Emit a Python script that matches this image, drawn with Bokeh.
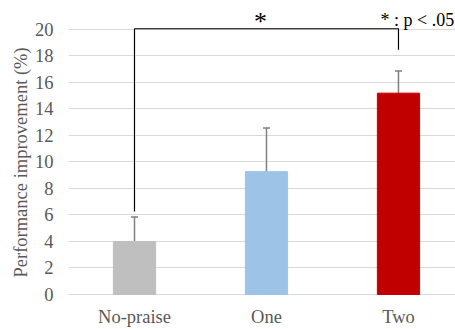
from bokeh.plotting import figure
from bokeh.models import Range1d, ColumnDataSource, Whisker, FixedTicker, TeeHead, Label, Title
from bokeh.embed import file_html
from bokeh.resources import INLINE

categories = ["No-praise", "One", "Two"]
means = [4.0, 9.27, 15.19]
err_low = [2.1, 5.94, 13.43]
err_high = [5.85, 12.57, 16.86]
colors = ["#bfbfbf", "#9dc3e6", "#c00000"]
y_ticks = [0, 2, 4, 6, 8, 10, 12, 14, 16, 18, 20]
bracket_top = 20.05
bracket_left_bottom = 6.26
bracket_right_bottom = 18.47
sig_label = "*"
legend_label = "* : p < .05"
y_label = "Performance improvement (%)"

FONT = "Liberation Serif"
xs = [i + 0.5 for i in range(len(categories))]

p = figure(width=455, height=329, output_backend="svg", toolbar_location=None,
           x_range=Range1d(0, 2.932), y_range=Range1d(-0.075, 22.18),
           min_border_left=68, min_border_right=0, min_border_top=0, min_border_bottom=33)
p.outline_line_color = None
p.xgrid.grid_line_color = None
p.ygrid.grid_line_color = "#d9d9d9"
p.ygrid.grid_line_width = 1

src = ColumnDataSource(dict(x=xs, top=means, lo=err_low, hi=err_high, color=colors))
p.vbar(x="x", top="top", bottom=0, width=0.32, color="color", source=src)

wh = Whisker(base="x", lower="lo", upper="hi", source=src, line_color="#7f7f7f", line_width=1.5,
             upper_head=TeeHead(size=7, line_color="#7f7f7f", line_width=1.5),
             lower_head=TeeHead(size=7, line_color="#7f7f7f", line_width=1.5))
p.add_layout(wh)

# significance bracket
p.line(x=[xs[0], xs[0], xs[2], xs[2]],
       y=[bracket_left_bottom, bracket_top, bracket_top, bracket_right_bottom],
       line_color="black", line_width=1.2)
p.add_layout(Label(x=1.455, y=20.6, text=sig_label, text_align="center",
                   text_baseline="alphabetic", text_font=FONT, text_font_size="26px",
                   text_color="black"))
p.add_layout(Label(x=2.364, y=20.68, text=legend_label, text_align="left",
                   text_baseline="alphabetic", text_font=FONT, text_font_size="18px",
                   text_color="black"))

p.xaxis.ticker = FixedTicker(ticks=xs)
p.xaxis.major_label_overrides = {x: c for x, c in zip(xs, categories)}
p.yaxis.ticker = FixedTicker(ticks=y_ticks)
for ax in (p.xaxis, p.yaxis):
    ax.axis_line_color = None
    ax.major_tick_line_color = None
    ax.minor_tick_line_color = None
    ax.major_tick_out = 0
    ax.major_tick_in = 0
    ax.major_label_text_font = FONT
    ax.major_label_text_font_size = "18.5px"
    ax.major_label_text_color = "#595959"
p.xaxis.major_label_standoff = 11
p.yaxis.major_label_standoff = 15

p.add_layout(Title(text=y_label, align="left", offset=18, standoff=2,
                   text_font=FONT, text_font_size="18.5px", text_font_style="normal",
                   text_color="#595959"), "left")

open("out.html", "w").write(file_html(p, INLINE))
